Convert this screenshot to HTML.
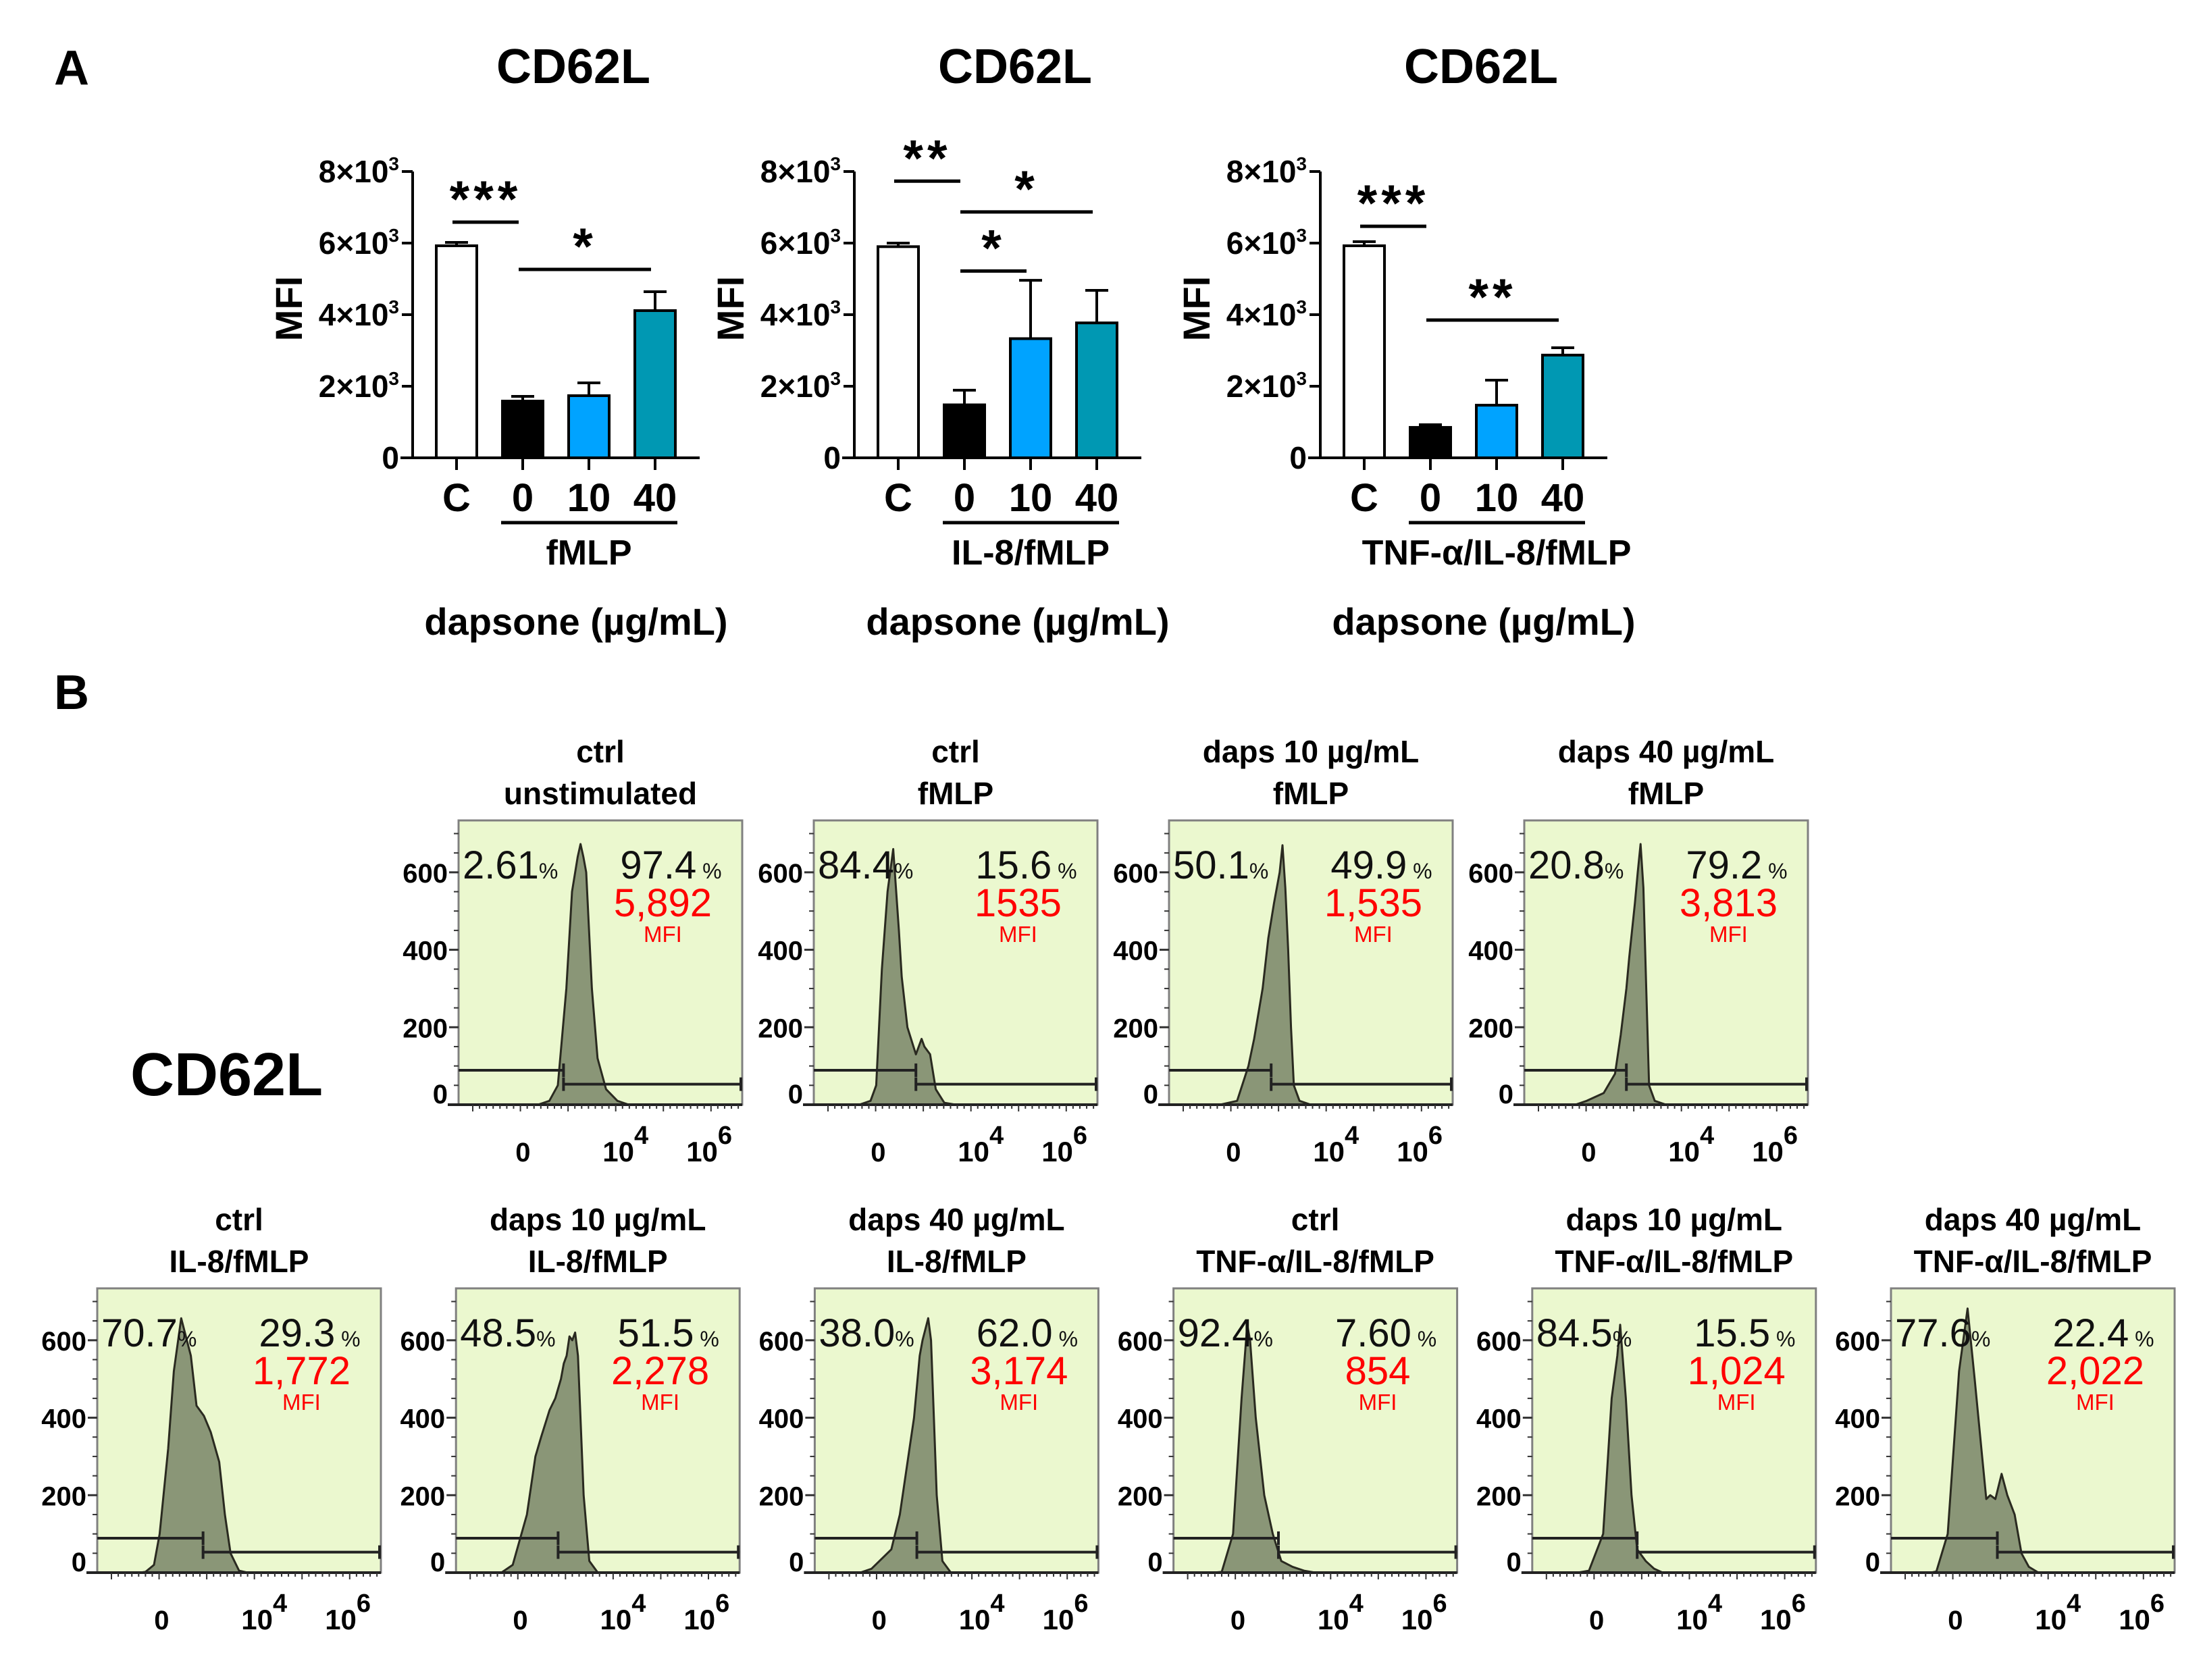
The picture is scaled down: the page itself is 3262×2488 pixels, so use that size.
<!DOCTYPE html>
<html><head><meta charset="utf-8"><style>
html,body{margin:0;padding:0;background:#fff}
svg{display:block}
text{font-family:"Liberation Sans",Arial,sans-serif}
</style></head><body>
<svg id="fig" width="3262" height="2488" viewBox="0 0 3262 2488" xmlns="http://www.w3.org/2000/svg">
<rect x="0" y="0" width="3262" height="2488" fill="#fff"/>
<text x="80" y="125" font-size="72" font-weight="bold">A</text>
<text x="80" y="1050" font-size="72" font-weight="bold">B</text>
<text x="193" y="1622" font-size="90" font-weight="bold">CD62L</text>
<g id="bars"></g>
<g id="hists"></g>
</svg>
<script>
// ---------- Panel A data ----------
const categories = ["C","0","10","40"];
const chart1Means = [5925,1585,1736,4113];
const chart1Sem   = [95,132,358,529];
const chart2Means = [5900,1480,3330,3770];
const chart2Sem   = [100,410,1630,910];
const chart3Means = [5925,850,1470,2870];
const chart3Sem   = [115,75,700,205];
const yTicks = [0,2000,4000,6000,8000];
const yTickLabels = ["0","2×10","4×10","6×10","8×10"];
const stimLabels = ["fMLP","IL-8/fMLP","TNF-α/IL-8/fMLP"];
const chart1Sig = [[0,1,6585,"***"],[1,3,5264,"*"]];
const chart2Sig = [[0,1,7730,"**"],[1,3,6870,"*"],[1,2,5220,"*"]];
const chart3Sig = [[0,1,6470,"***"],[1,3,3850,"**"]];

// ---------- Panel B data ----------
const histTitles1 = ["ctrl","ctrl","daps 10 µg/mL","daps 40 µg/mL","ctrl","daps 10 µg/mL","daps 40 µg/mL","ctrl","daps 10 µg/mL","daps 40 µg/mL"];
const histTitles2 = ["unstimulated","fMLP","fMLP","fMLP","IL-8/fMLP","IL-8/fMLP","IL-8/fMLP","TNF-α/IL-8/fMLP","TNF-α/IL-8/fMLP","TNF-α/IL-8/fMLP"];
const leftPct  = ["2.61","84.4","50.1","20.8","70.7","48.5","38.0","92.4","84.5","77.6"];
const rightPct = ["97.4","15.6","49.9","79.2","29.3","51.5","62.0","7.60","15.5","22.4"];
const mfiVals  = ["5,892","1535","1,535","3,813","1,772","2,278","3,174","854","1,024","2,022"];
const gateSplit = [0.37,0.36,0.36,0.36,0.373,0.36,0.36,0.37,0.37,0.375];
const histX = [
 [0.28,0.32,0.35,0.38,0.40,0.42,0.43,0.44,0.45,0.47,0.49,0.52,0.56,0.60],
 [0.16,0.20,0.22,0.24,0.26,0.28,0.30,0.31,0.33,0.36,0.38,0.39,0.41,0.43,0.46,0.50],
 [0.18,0.24,0.28,0.30,0.33,0.35,0.37,0.38,0.39,0.40,0.41,0.42,0.43,0.44,0.46,0.50],
 [0.18,0.22,0.28,0.32,0.34,0.36,0.37,0.39,0.40,0.41,0.42,0.43,0.44,0.46,0.50],
 [0.15,0.17,0.20,0.22,0.25,0.27,0.296,0.33,0.35,0.376,0.40,0.43,0.45,0.47,0.50,0.53],
 [0.16,0.20,0.25,0.28,0.30,0.33,0.35,0.37,0.38,0.39,0.40,0.41,0.42,0.43,0.45,0.47,0.50],
 [0.16,0.20,0.27,0.30,0.33,0.35,0.37,0.38,0.40,0.41,0.42,0.43,0.45,0.48],
 [0.14,0.17,0.21,0.24,0.26,0.27,0.29,0.32,0.35,0.38,0.42,0.46,0.50],
 [0.16,0.20,0.25,0.28,0.30,0.31,0.33,0.35,0.37,0.40,0.43,0.46],
 [0.14,0.16,0.20,0.24,0.27,0.295,0.32,0.336,0.35,0.368,0.39,0.41,0.436,0.46,0.486,0.52]
];
const histY = [
 [0,10,50,300,550,640,673,640,600,300,120,40,10,0],
 [0,10,50,350,550,660,450,330,200,130,170,150,130,40,5,0],
 [0,10,100,170,300,430,520,560,600,670,560,400,200,50,10,0],
 [0,10,30,80,180,300,380,520,600,673,560,300,50,10,0],
 [0,2,20,100,320,520,657,560,431,405,363,286,150,50,5,0],
 [0,20,150,300,350,420,450,500,540,560,610,600,620,560,200,30,0],
 [0,10,60,150,300,400,560,600,657,600,400,200,30,0],
 [0,2,100,450,640,600,400,200,100,30,15,5,0],
 [0,5,100,450,560,640,450,200,60,30,10,0],
 [0,3,100,520,682,500,310,190,200,190,255,200,150,50,15,0]
];
const histYTicks = [0,200,400,600];

const NS = "http://www.w3.org/2000/svg";
function mk(tag, attrs, parent){
  const e = document.createElementNS(NS, tag);
  for (const k in attrs) e.setAttribute(k, attrs[k]);
  parent.appendChild(e);
  return e;
}

// ---------- Bar charts ----------
const barsG = document.getElementById("bars");
const barFills = ["#ffffff","#000000","#00a3ff","#0098b3"];
const charts = [
 {ax:611, means:chart1Means, sem:chart1Sem, sig:chart1Sig, stim:stimLabels[0]},
 {ax:1265, means:chart2Means, sem:chart2Sem, sig:chart2Sig, stim:stimLabels[1]},
 {ax:1955, means:chart3Means, sem:chart3Sem, sig:chart3Sig, stim:stimLabels[2]}
];
const Y0 = 678, YMAX = 8000, YH = 424;
function yScale(v){ return Y0 - v / YMAX * YH; }
charts.forEach((c, ci) => {
  const g = mk("g", {}, barsG);
  
  
  function xc(i){ return c.ax + 65 + i * 98; }
  const t = mk("text", {x: c.ax + 238, y: 123, "font-size": 72, "font-weight": "bold", "text-anchor": "middle"}, g);
  t.textContent = "CD62L";
  
  
  const yl = mk("text", {x: 0, y: 0, "font-size": 56, "font-weight": "bold", "text-anchor": "middle", transform: `translate(${c.ax - 164},457) rotate(-90)`}, g);
  yl.textContent = "MFI";
  
  
  const ya = mk("line", {x1: c.ax, y1: yScale(YMAX), x2: c.ax, y2: Y0 + 2, stroke: "#000", "stroke-width": 4}, g);
  
  
  const xa = mk("line", {x1: c.ax - 18, y1: Y0, x2: c.ax + 425, y2: Y0, stroke: "#000", "stroke-width": 4}, g);
  
  
  yTicks.forEach((v, i) => {
    const tk = mk("line", {x1: c.ax - 16, y1: yScale(v), x2: c.ax, y2: yScale(v), stroke: "#000", "stroke-width": 4}, g);
    
    
    const lb = mk("text", {x: c.ax - 20, y: yScale(v) + 16, "font-size": 46, "font-weight": "bold", "text-anchor": "end"}, g);
    
    
    if (v === 0) { lb.textContent = yTickLabels[i]; }
    else {
      const s1 = mk("tspan", {}, lb); s1.textContent = yTickLabels[i];
      const s2 = mk("tspan", {"font-size": 28, dy: -18}, lb); s2.textContent = "3";
    }
  });
  categories.forEach((cat, i) => {
    const top = yScale(c.means[i]);
    const errTop = yScale(c.means[i] + c.sem[i]);
    const el = mk("line", {x1: xc(i), y1: top, x2: xc(i), y2: errTop, stroke: "#000", "stroke-width": 4}, g);
    
    
    const cap = mk("line", {x1: xc(i) - 17, y1: errTop, x2: xc(i) + 17, y2: errTop, stroke: "#000", "stroke-width": 4}, g);
    
    
    const r = mk("rect", {x: xc(i) - 30, y: top, width: 60, height: Y0 - top, fill: barFills[i], stroke: "#000", "stroke-width": 4}, g);
    
    
    const tk = mk("line", {x1: xc(i), y1: Y0, x2: xc(i), y2: Y0 + 18, stroke: "#000", "stroke-width": 4}, g);
    
    
    const lb = mk("text", {x: xc(i), y: 757, "font-size": 58, "font-weight": "bold", "text-anchor": "middle"}, g);
    lb.textContent = cat;
    
    
  });
  c.sig.forEach(s => {
    const yy = yScale(s[2]);
    const x1 = xc(s[0]) - 6, x2 = xc(s[1]) - 6;
    const ln = mk("line", {x1: x1, y1: yy, x2: x2, y2: yy, stroke: "#000", "stroke-width": 5}, g);
    
    
    const st = mk("text", {x: (x1 + x2) / 2, y: yy - 8, "font-size": 76, "font-weight": "bold", "text-anchor": "middle", "letter-spacing": 6}, g);
    st.textContent = s[3];
    
    
  });
  const gl = mk("line", {x1: xc(1) - 32, y1: 774, x2: xc(3) + 33, y2: 774, stroke: "#000", "stroke-width": 5}, g);
  
  
  const st = mk("text", {x: (xc(1) + xc(3)) / 2, y: 836, "font-size": 52, "font-weight": "bold", "text-anchor": "middle"}, g);
  st.textContent = c.stim;
  
  
  const dl = mk("text", {x: c.ax + 242, y: 940, "font-size": 56, "font-weight": "bold", "text-anchor": "middle"}, g);
  dl.textContent = "dapsone (µg/mL)";
  
  
});

// ---------- Histograms ----------
const histG = document.getElementById("hists");
const HMAX = 734;
histX.forEach((xs, p) => {
  const top = p < 4;
  const bx = top ? 679 + p * 526 : 144 + (p - 4) * 531.2;
  const by = top ? 1215 : 1908;
  const bw = 420, bh = 421;
  const g = mk("g", {}, histG);
  
  
  const hx = f => bx + f * bw;
  const hy = v => by + bh - v / HMAX * bh;
  const t1 = mk("text", {x: bx + bw / 2, y: by - 86, "font-size": 46, "font-weight": "bold", "text-anchor": "middle"}, g);
  t1.textContent = histTitles1[p];
  
  
  const t2 = mk("text", {x: bx + bw / 2, y: by - 24, "font-size": 46, "font-weight": "bold", "text-anchor": "middle"}, g);
  t2.textContent = histTitles2[p];
  
  
  const box = mk("rect", {x: bx, y: by, width: bw, height: bh, fill: "#ebf8cf", stroke: "#808080", "stroke-width": 3}, g);
  
  
  let d = "M" + hx(xs[0]) + "," + hy(0);
  xs.forEach((f, i) => { d += " L" + hx(f).toFixed(1) + "," + hy(histY[p][i]).toFixed(1); });
  d += " L" + hx(xs[xs.length - 1]) + "," + hy(0) + " Z";
  const path = mk("path", {d: d, fill: "#8a9677", stroke: "#2a2a20", "stroke-width": 3, "stroke-linejoin": "round"}, g);
  
  
  const sx = hx(gateSplit[p]);
  const lg = mk("line", {x1: bx, y1: hy(89), x2: sx, y2: hy(89), stroke: "#222", "stroke-width": 4}, g);
  
  
  const lgc = mk("line", {x1: sx, y1: hy(89) - 10, x2: sx, y2: hy(89) + 10, stroke: "#222", "stroke-width": 4}, g);
  
  
  const rg = mk("line", {x1: sx, y1: hy(53), x2: bx + bw, y2: hy(53), stroke: "#222", "stroke-width": 4}, g);
  
  
  const rgc1 = mk("line", {x1: sx, y1: hy(53) - 10, x2: sx, y2: hy(53) + 10, stroke: "#222", "stroke-width": 4}, g);
  
  
  const rgc2 = mk("line", {x1: bx + bw - 2, y1: hy(53) - 10, x2: bx + bw - 2, y2: hy(53) + 10, stroke: "#222", "stroke-width": 4}, g);
  
  
  for (let v = 0; v <= 700; v += 50) {
    const major = v % 200 === 0;
    const tk = mk("line", {x1: bx - (major ? 14 : 7), y1: hy(v), x2: bx, y2: hy(v), stroke: "#333", "stroke-width": major ? 3 : 2}, g);
    
    
  }
  const axl = mk("line", {x1: bx - 16, y1: by + bh, x2: bx + bw, y2: by + bh, stroke: "#222", "stroke-width": 4}, g);
  
  
  histYTicks.forEach(v => {
    const lb = mk("text", {x: bx - 16, y: hy(v) + (v === 0 ? -2 : 15), "font-size": 40, "font-weight": "bold", "text-anchor": "end"}, g);
    lb.textContent = String(v);
    
    
  });
  for (let k = 0; k < 40; k++) {
    const f = 0.05 + k * 0.024;
    if (f > 0.995) break;
    const major = (k % 7 === 0);
    const tk = mk("line", {x1: hx(f), y1: by + bh, x2: hx(f), y2: by + bh + (major ? 10 : 6), stroke: "#333", "stroke-width": 2}, g);
    
    
  }
  const xl0 = mk("text", {x: hx(0.227), y: by + bh + 84, "font-size": 40, "font-weight": "bold", "text-anchor": "middle"}, g);
  xl0.textContent = "0";
  
  
  [["4", 0.565], ["6", 0.86]].forEach(e => {
    const lb = mk("text", {x: hx(e[1]) - 24, y: by + bh + 84, "font-size": 42, "font-weight": "bold"}, g);
    
    
    const a = mk("tspan", {}, lb); a.textContent = "10";
    const b = mk("tspan", {dy: -26, "font-size": 38}, lb); b.textContent = e[0];
  });
  const lp = mk("text", {x: bx + 6, y: by + 86, "font-size": 58, fill: "#111"}, g);
  
  
  const lp1 = mk("tspan", {}, lp); lp1.textContent = leftPct[p];
  const lp2 = mk("tspan", {"font-size": 32}, lp); lp2.textContent = "%";
  const rp = mk("text", {x: hx(0.57), y: by + 86, "font-size": 58, fill: "#111"}, g);
  
  
  const rp1 = mk("tspan", {}, rp); rp1.textContent = rightPct[p];
  const rp2 = mk("tspan", {"font-size": 32}, rp); rp2.textContent = " %";
  const mv = mk("text", {x: hx(0.72), y: by + 142, "font-size": 58, fill: "#ff0000", "text-anchor": "middle"}, g);
  mv.textContent = mfiVals[p];
  
  
  const ml = mk("text", {x: hx(0.72), y: by + 180, "font-size": 33, fill: "#ff0000", "text-anchor": "middle"}, g);
  ml.textContent = "MFI";
  
  
});
</script>
</body></html>
